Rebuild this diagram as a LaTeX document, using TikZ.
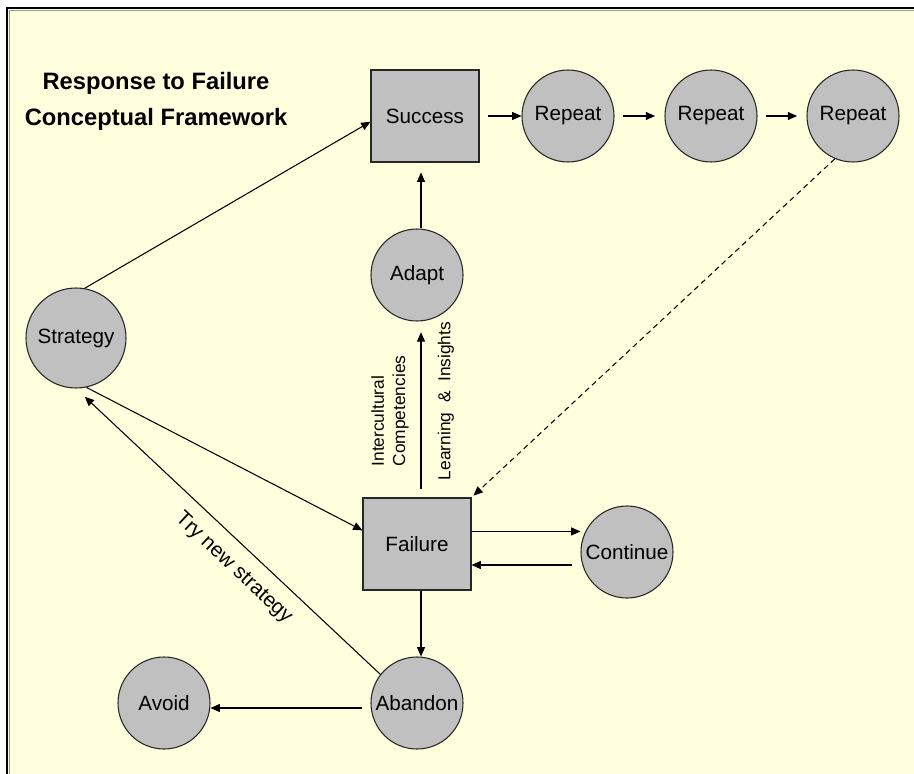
\documentclass[tikz,border=0pt]{standalone}
\usepackage{fontspec}
\setmainfont{Liberation Sans}
\usetikzlibrary{arrows.meta}

\definecolor{paper}{RGB}{255,255,221}
\definecolor{boxgray}{RGB}{192,192,192}

\begin{document}
\begin{tikzpicture}[
      x = 0.75pt, y = -0.75pt, font = \fontsize{15.5}{18}\selectfont,
      sq/.style    = {draw = black!85, fill = boxgray, line width = .8pt,
                      minimum width = 81pt, minimum height = 69pt, inner sep = 0pt},
      rnd/.style   = {circle, draw = black!85, fill = boxgray, line width = .8pt,
                      minimum size = 69pt, inner sep = 0pt},
      arr/.style   = {-{Triangle[length = 7pt, width = 6pt]}, line width = .8pt},
      lbl/.style   = {font = \fontsize{13}{16}\selectfont, inner sep = 1pt},
      slant/.style = {sloped, below, inner sep = 10pt},
      title/.style = {font = \fontsize{17.8}{27}\selectfont\bfseries, align = center}
    ]

  % ---------- frame ----------------------------------------------------
  \useasboundingbox (0,0) rectangle (914,774);
  \clip (0,0) rectangle (914,774);
  \fill[white] (0,0) rectangle (914,774);
  \draw[fill = paper, line width = 1.1pt] (7,8) rectangle (930,790);
  \draw[black!40, line width = .6pt] (9,10) rectangle (930,790);

  % ---------- title ----------------------------------------------------
  \node[title] (title) at (156,101) {Response to Failure\\Conceptual Framework};

  % ---------- top row --------------------------------------------------
  \node[sq]  (success) at (425,116) {Success};
  \node[rnd] (repA)    at (568,116) {Repeat};
  \node[rnd] (repB)    at (711,116) {Repeat};
  \node[rnd] (repC)    at (853,116) {Repeat};

  \draw[arr, shorten < = 6pt] (success) -- (repA);
  \draw[arr, shorten < = 6pt, shorten > = 7pt] (repA) -- (repB);
  \draw[arr, shorten < = 6pt, shorten > = 7pt] (repB) -- (repC);

  % ---------- middle ---------------------------------------------------
  \node[rnd] (adapt) at (417,275) {Adapt};
  \node[rnd, minimum size = 75pt] (strategy) at (76,338) {Strategy};
  \node[sq]  (failure)  at (417,544) {Failure};
  \node[rnd] (continue) at (627,552) {Continue};

  \draw[arr] (strategy.80) -- (success.186);
  \draw[arr] (strategy.-78) -- (failure.166);
  \coordinate (upA) at ([xshift = 3pt]adapt.north);
  \draw[arr, shorten > = 7.5pt] (upA) -- (upA |- success.south);
  \draw[arr, shorten < = 6pt, shorten > = 8pt]
        ([xshift = 3pt]failure.north) -- ([xshift = 3pt]adapt.south);
    \node[lbl, rotate = 90, anchor = west, align = left] (intercult) at (390,468)
        {Intercultural\\Competencies};
    \node[lbl, rotate = 90] (learning) at (446,401) {Learning~ \&~ Insights};

  \draw[arr, dashed, dash pattern = on 4pt off 3pt, shorten > = 2pt]
        (repC.-113) -- (failure.north east);

  \coordinate (outC) at ([yshift = 9.4pt]failure.east);
  \coordinate (inC)  at ([yshift = -15.75pt]failure.east);
  \draw[arr] (outC) -- (outC -| continue.west);
  \draw[arr, shorten < = 6pt] (inC -| continue.west) -- (inC);

  % ---------- bottom row -----------------------------------------------
  \node[rnd] (abandon) at (417,703) {Abandon};
  \node[rnd] (avoid)   at (164,703) {Avoid};

  \draw[arr] ([xshift = 3pt]failure.south) -- ([xshift = 3pt]abandon.north);
  \draw[arr, shorten < = 6pt] ([yshift = -3.75pt]abandon.west) -- ([yshift = -3.75pt]avoid.east);
  \draw[arr, shorten > = 9pt] (abandon.142) --
        node[slant, pos = .43] (trynew) {Try new strategy} (strategy.-90);

\end{tikzpicture}
\end{document}
